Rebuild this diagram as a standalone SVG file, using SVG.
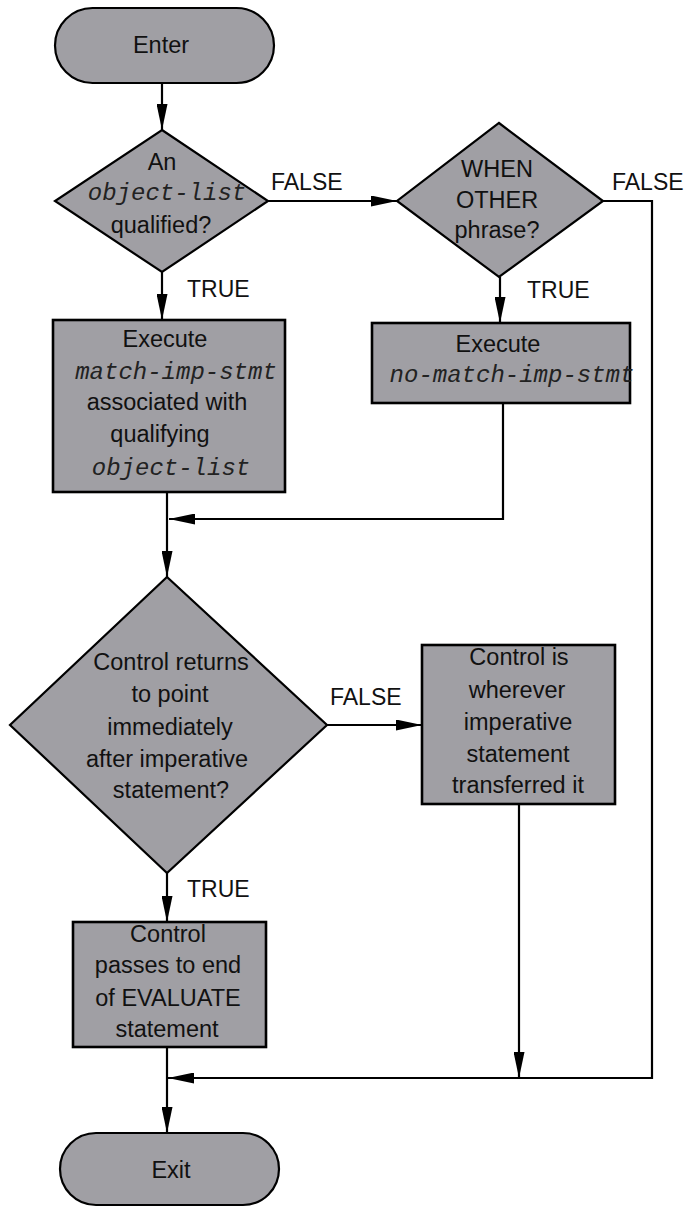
<svg xmlns="http://www.w3.org/2000/svg" width="689" height="1207" viewBox="0 0 689 1207">
  <style>
    .shape { fill: #a09fa4; stroke: #000; stroke-width: 2.2; }
    .box { fill: #a09fa4; stroke: #000; stroke-width: 2.6; }
    .t { font-family: "Liberation Sans", Arial, sans-serif; font-size: 23.5px; fill: #111; text-anchor: middle; }
    .m { font-family: "Liberation Mono", "Courier New", monospace; font-style: italic; font-size: 24px; fill: #222; text-anchor: middle; }
    .lbl { font-family: "Liberation Sans", Arial, sans-serif; font-size: 23px; fill: #111; }
    .wire { fill: none; stroke: #000; stroke-width: 2.2; }
  </style>
  <defs>
    <marker id="arrow" viewBox="0 0 26 11" refX="26" refY="5.5" markerWidth="26" markerHeight="11" markerUnits="userSpaceOnUse" orient="auto">
      <path d="M0,0 L26,5.5 L0,11 z" fill="#000"/>
    </marker>
  </defs>

  <rect width="689" height="1207" fill="#fff"/>

  <!-- connectors -->
  <g id="connectors">
    <path class="wire" d="M162,83 V130" marker-end="url(#arrow)"/>
    <path class="wire" d="M268,201 H397" marker-end="url(#arrow)"/>
    <path class="wire" d="M603,201 H652 V1078 H168" marker-end="url(#arrow)"/>
    <path class="wire" d="M162,272 V320" marker-end="url(#arrow)"/>
    <path class="wire" d="M500,277 V323" marker-end="url(#arrow)"/>
    <path class="wire" d="M503,403 V519 H169" marker-end="url(#arrow)"/>
    <path class="wire" d="M167,492 V577" marker-end="url(#arrow)"/>
    <path class="wire" d="M327,725 H422" marker-end="url(#arrow)"/>
    <path class="wire" d="M167,873 V922" marker-end="url(#arrow)"/>
    <path class="wire" d="M519,804 V1078" marker-end="url(#arrow)"/>
    <path class="wire" d="M167,1047 V1133" marker-end="url(#arrow)"/>
    <text class="lbl" x="271" y="190">FALSE</text>
    <text class="lbl" x="612" y="190">FALSE</text>
    <text class="lbl" x="187" y="297">TRUE</text>
    <text class="lbl" x="527" y="298">TRUE</text>
    <text class="lbl" x="330" y="705">FALSE</text>
    <text class="lbl" x="187" y="897">TRUE</text>
  </g>

  <!-- start terminator -->
  <g id="enter">
    <rect class="shape" x="55" y="8" width="219" height="75" rx="37.5" ry="37.5"/>
    <text class="t" x="161" y="53">Enter</text>
  </g>

  <!-- first test -->
  <g id="test-object-list">
    <polygon class="shape" points="162,130 268,201 162,272 55,201"/>
    <text class="t" x="162" y="170">An</text>
    <text class="m" x="167" y="200">object-list</text>
    <text class="t" x="161" y="233">qualified?</text>
  </g>

  <!-- WHEN OTHER test -->
  <g id="test-when-other">
    <polygon class="shape" points="499,123 603,201 499,277 397,201"/>
    <text class="t" x="497" y="177">WHEN</text>
    <text class="t" x="497" y="208">OTHER</text>
    <text class="t" x="497" y="238">phrase?</text>
  </g>

  <!-- matched statement -->
  <g id="exec-match">
    <rect class="box" x="53" y="320" width="232" height="172"/>
    <text class="t" x="165" y="347">Execute</text>
    <text class="m" x="176" y="379">match-imp-stmt</text>
    <text class="t" x="167" y="410">associated with</text>
    <text class="t" x="160" y="442">qualifying</text>
    <text class="m" x="171" y="475">object-list</text>
  </g>

  <!-- no-match statement -->
  <g id="exec-no-match">
    <rect class="box" x="372" y="323" width="258" height="80"/>
    <text class="t" x="498" y="352">Execute</text>
    <text class="m" x="512" y="382">no-match-imp-stmt</text>
  </g>

  <!-- return test -->
  <g id="test-return">
    <polygon class="shape" points="167,577 327,725 167,873 10,725"/>
    <text class="t" x="171" y="670">Control returns</text>
    <text class="t" x="170" y="702">to point</text>
    <text class="t" x="170" y="735">immediately</text>
    <text class="t" x="167" y="767">after imperative</text>
    <text class="t" x="171" y="798">statement?</text>
  </g>

  <!-- transferred -->
  <g id="transferred">
    <rect class="box" x="422" y="645" width="193" height="159"/>
    <text class="t" x="519" y="665">Control is</text>
    <text class="t" x="517" y="698">wherever</text>
    <text class="t" x="518" y="730">imperative</text>
    <text class="t" x="518" y="762">statement</text>
    <text class="t" x="518" y="793">transferred it</text>
  </g>

  <!-- end of EVALUATE -->
  <g id="end-evaluate">
    <rect class="box" x="73" y="922" width="193" height="125"/>
    <text class="t" x="168" y="942">Control</text>
    <text class="t" x="168" y="973">passes to end</text>
    <text class="t" x="168" y="1006">of EVALUATE</text>
    <text class="t" x="167" y="1037">statement</text>
  </g>

  <!-- exit terminator -->
  <g id="exit">
    <rect class="shape" x="60" y="1133" width="219" height="72" rx="36" ry="36"/>
    <text class="t" x="171" y="1178">Exit</text>
  </g>
</svg>
